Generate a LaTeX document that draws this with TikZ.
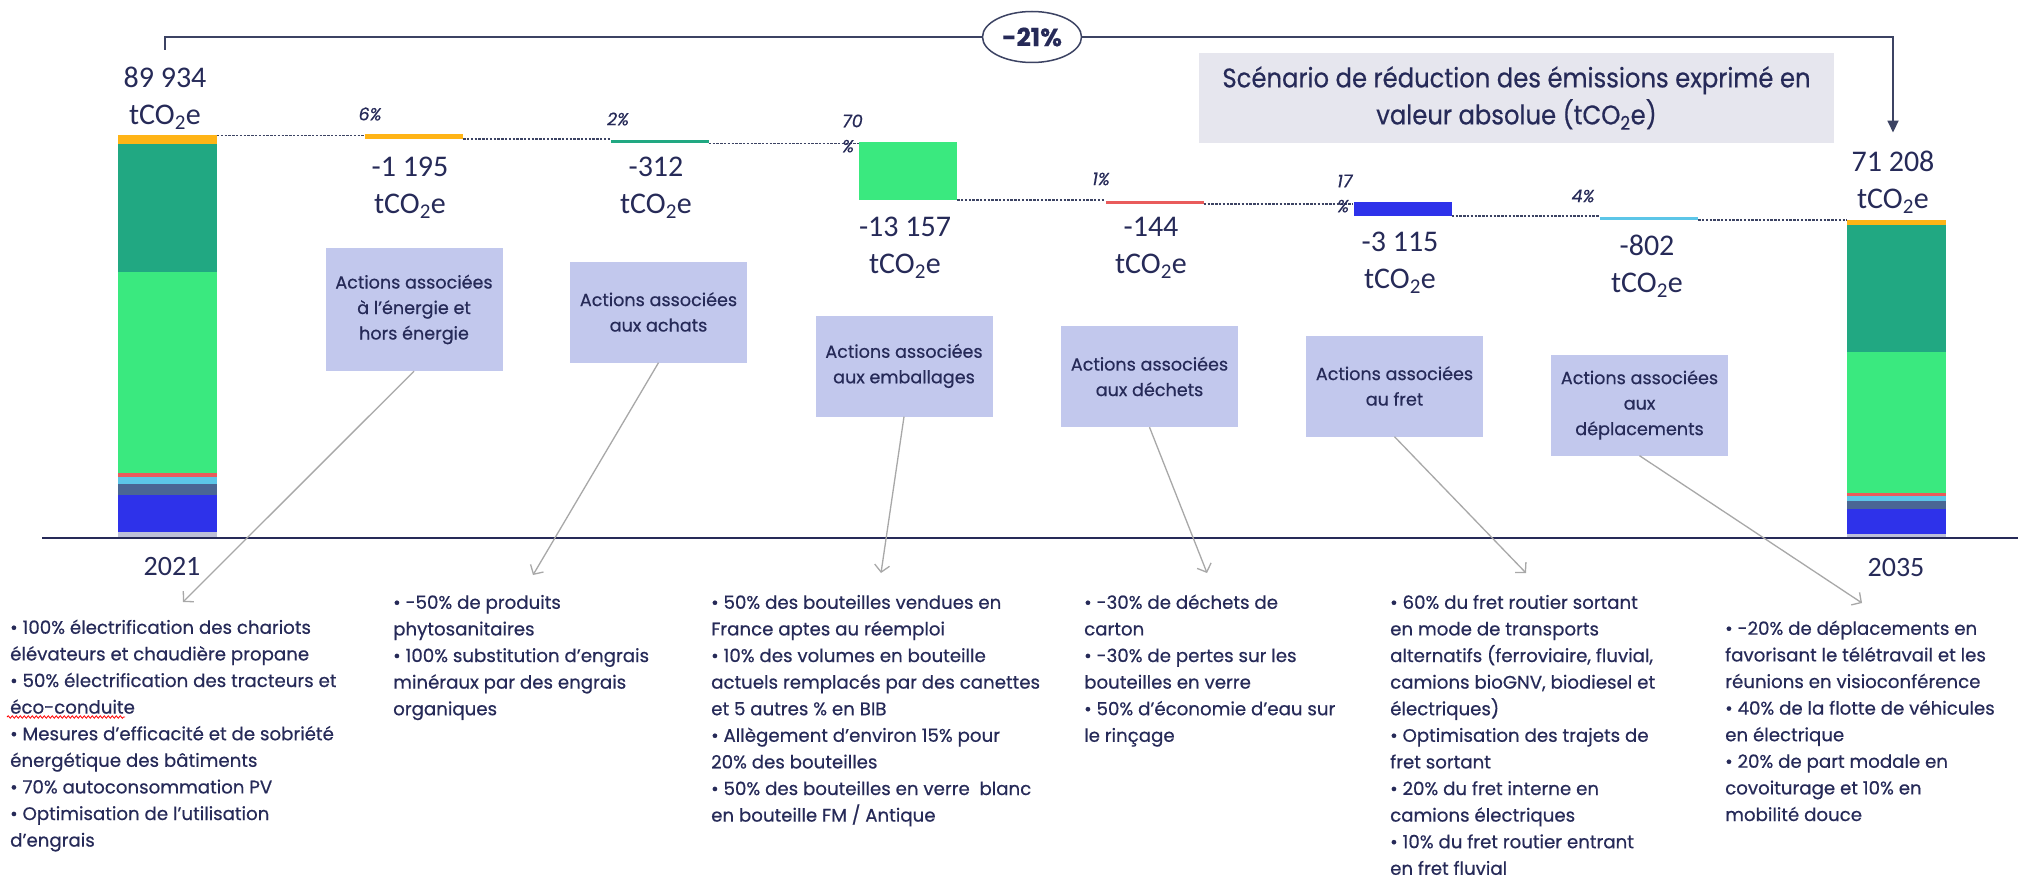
\documentclass[tikz,border=0pt]{standalone}
\usepackage{fontspec}
\setmainfont[FakeBold=0.5]{Poppins}
\newfontfamily\condfont[FakeStretch=0.9, FakeBold=0.5]{Poppins}
\newfontfamily\numfont{Carlito}
\usetikzlibrary{arrows.meta,decorations.pathmorphing,shapes.geometric}
\definecolor{orng}{HTML}{FFB416}
\definecolor{dgrn}{HTML}{21A882}
\definecolor{lgrn}{HTML}{3AE97F}
\definecolor{rd}{HTML}{E95B5B}
\definecolor{lblu}{HTML}{5CC6E8}
\definecolor{stl}{HTML}{4A6694}
\definecolor{blu}{HTML}{2E32EA}
\definecolor{lgry}{HTML}{BDC0D8}
\definecolor{boxblu}{HTML}{C2C8ED}
\definecolor{scenbg}{HTML}{E6E6EE}
\definecolor{navy}{HTML}{262A58}
\definecolor{brk}{HTML}{3C4363}
\definecolor{leadgry}{HTML}{A8A8A8}
\def\tco{tCO\textsubscript{2}e}
\tikzset{
  val/.style={font=\numfont\fontsize{30}{37}\selectfont, text=navy, align=center, inner sep=0},
  pct/.style={font=\itshape\fontsize{17.5}{25}\selectfont, text=navy, inner sep=0},
  dbar/.style={inner sep=0, minimum width=98},
  dots/.style={draw=brk, line width=1.6, dash pattern=on 2.4pt off 1.4pt},
  act/.style={fill=boxblu, text=navy, font=\fontsize{17.6}{25.5}\selectfont, align=center, minimum width=177, minimum height=101, inner sep=0},
  lst/.style={font=\fontsize{18.2}{26.6}\selectfont, text=navy, align=left, anchor=north west, inner sep=0},
  lead/.style={draw=leadgry, line width=1.3, -{Straight Barb[length=7pt,width=15pt]}},
  bracket/.style={draw=brk, line width=1.8, -{Triangle[length=12pt,width=11pt]}}
}

\begin{document}
\begin{tikzpicture}[x=1pt, y=-1pt]
			%%%%% START %%%%%
			\useasboundingbox[fill=white] (0,0) rectangle (2021,880);
			
			% stacked bars
			\foreach \ya/\yb/\c in {135/144/orng, 144/272/dgrn, 272/473/lgrn, 473/477/rd, 477/484/lblu, 484/495/stl, 495/532/blu, 532/537/lgry}
				\fill[\c] (118,\ya) rectangle (217,\yb);
			\foreach \ya/\yb/\c in {220/225/orng, 225/352/dgrn, 352/493/lgrn, 493/496/rd, 496/501/lblu, 501/509/stl, 509/534/blu, 534/537/lgry}
				\fill[\c] (1847,\ya) rectangle (1946,\yb);
			\coordinate (b21) at (217,135.5);
			\coordinate (b35) at (1847,220);
			
			\draw[navy, line width=2] (42,538) -- (2018,538);
			\node[font=\numfont\fontsize{28}{28}\selectfont, text=navy] (y21) at (172,567) {2021};
			\node[font=\numfont\fontsize{28}{28}\selectfont, text=navy] (y35) at (1896,568) {2035};
			
			% waterfall steps
			\node[dbar, fill=orng, minimum height=5] (d1) at (414,136.5) {};
			\node[dbar, fill=dgrn, minimum height=3] (d2) at (659.5,142) {};
			\node[dbar, fill=lgrn, minimum height=58] (d3) at (908,171) {};
			\node[dbar, fill=rd, minimum height=3] (d4) at (1154.5,202) {};
			\node[dbar, fill=blu, minimum height=14] (d5) at (1402.5,209) {};
			\node[dbar, fill=lblu, minimum height=3] (d6) at (1649,218) {};
			
			\draw[dots] (b21) -- (b21 -| d1.west);
			\draw[dots] (d1.south east) -- (d1.south east -| d2.west);
			\draw[dots] (d2.south east) -- (d2.south east -| d3.west);
			\draw[dots] (d3.south east) -- (d3.south east -| d4.west);
			\draw[dots] (d4.south east) -- (d4.south east -| d5.west);
			\draw[dots] (d5.south east) -- (d5.south east -| d6.west);
			\draw[dots] (d6.south east) -- (d6.south east -| b35);
			
			\node[pct] (p1) at (370,114) {6\%};
			\node[pct] (p2) at (618,119) {2\%};
			\node[pct, align=left, anchor=west] (p3) at (842,133.5) {70\\\%};
			\node[pct] (p4) at (1101,179) {1\%};
			\node[pct, align=left, anchor=west] (p5) at (1337,193.5) {17\\\%};
			\node[pct] (p6) at (1583,196) {4\%};
			
			% values
			\node[val] (v0) at (165,98) {89~934\\\tco};
			\node[val] (v1) at (410,188) {-1~195\\\tco};
			\node[val] (v2) at (656,188) {-312\\\tco};
			\node[val] (v3) at (905,248) {-13~157\\\tco};
			\node[val] (v4) at (1151,248) {-144\\\tco};
			\node[val] (v5) at (1400,263) {-3~115\\\tco};
			\node[val] (v6) at (1647,266) {-802\\\tco};
			\node[val] (v7) at (1893,182) {71~208\\\tco};
			
			\node[ellipse, draw=brk, line width=1.5, fill=white, text=navy, font=\bfseries\fontsize{25}{25}\selectfont, minimum width=99, minimum height=51, inner sep=0] (tot) at (1032,37) {-21\%};
			\draw[bracket] ([yshift=17pt]v0.north) |- (tot) -| ([yshift=18pt]v7.north);
			
			\node[fill=scenbg, text=navy, align=center, font=\condfont\fontsize{27}{37}\selectfont, minimum width=635, minimum height=90, inner sep=0] (scen) at (1516.5,98) {Scénario de réduction des émissions exprimé en\\valeur absolue (\tco)};
			
			% action boxes
			\node[act, minimum height=123] (a1) at (414,309.5) {Actions associées\\à l’énergie et\\hors énergie};
			\node[act] (a2) at (658.5,312) {Actions associées\\aux achats};
			\node[act] (a3) at (904,366) {Actions associées\\aux emballages};
			\node[act] (a4) at (1149.5,376.5) {Actions associées\\aux déchets};
			\node[act] (a5) at (1394.5,386) {Actions associées\\au fret};
			\node[act] (a6) at (1639.5,405) {Actions associées\\aux\\déplacements};
			
			\coordinate (t1) at (183,602);
			\coordinate (t2) at (533,575);
			\coordinate (t3) at (881,573);
			\coordinate (t4) at (1207,573);
			\coordinate (t5) at (1526,573);
			\coordinate (t6) at (1862,603);
			\foreach \i in {1,...,6}
				\draw[lead] (a\i.south) -- (t\i);
			
			% lists
			\node[lst] (l1) at (10,615) {\strut• 100\% électrification des chariots\\élévateurs et chaudière propane\\• 50\% électrification des tracteurs et\\éco-conduite\\• Mesures d’efficacité et de sobriété\\énergétique des bâtiments\\• 70\% autoconsommation PV\\• Optimisation de l’utilisation\\d’engrais};
			\node[lst] (l2) at (393,590) {\strut• -50\% de produits\\phytosanitaires\\• 100\% substitution d’engrais\\minéraux par des engrais\\organiques};
			\node[lst] (l3) at (711,590) {\strut• 50\% des bouteilles vendues en\\France aptes au réemploi\\• 10\% des volumes en bouteille\\actuels remplacés par des canettes\\et 5 autres \% en BIB\\• Allègement d’environ 15\% pour\\20\% des bouteilles\\• 50\% des bouteilles en verre~ blanc\\en bouteille FM / Antique};
			\node[lst] (l4) at (1084,590) {\strut• -30\% de déchets de\\carton\\• -30\% de pertes sur les\\bouteilles en verre\\• 50\% d’économie d’eau sur\\le rinçage};
			\node[lst] (l5) at (1390,590) {\strut• 60\% du fret routier sortant\\en mode de transports\\alternatifs (ferroviaire, fluvial,\\camions bioGNV, biodiesel et\\électriques)\\• Optimisation des trajets de\\fret sortant\\• 20\% du fret interne en\\camions électriques\\• 10\% du fret routier entrant\\en fret fluvial};
			\node[lst] (l6) at (1725,616) {\strut• -20\% de déplacements en\\favorisant le télétravail et les\\réunions en visioconférence\\• 40\% de la flotte de véhicules\\en électrique\\• 20\% de part modale en\\covoiturage et 10\% en\\mobilité douce};
			
			\draw[red, line width=0.8, decorate, decoration={snake, amplitude=1.2pt, segment length=4pt}] ([shift={(-3,102)}]l1.north west) -- ++(118,0);
			%%%%% END %%%%%
\end{tikzpicture}
\end{document}
